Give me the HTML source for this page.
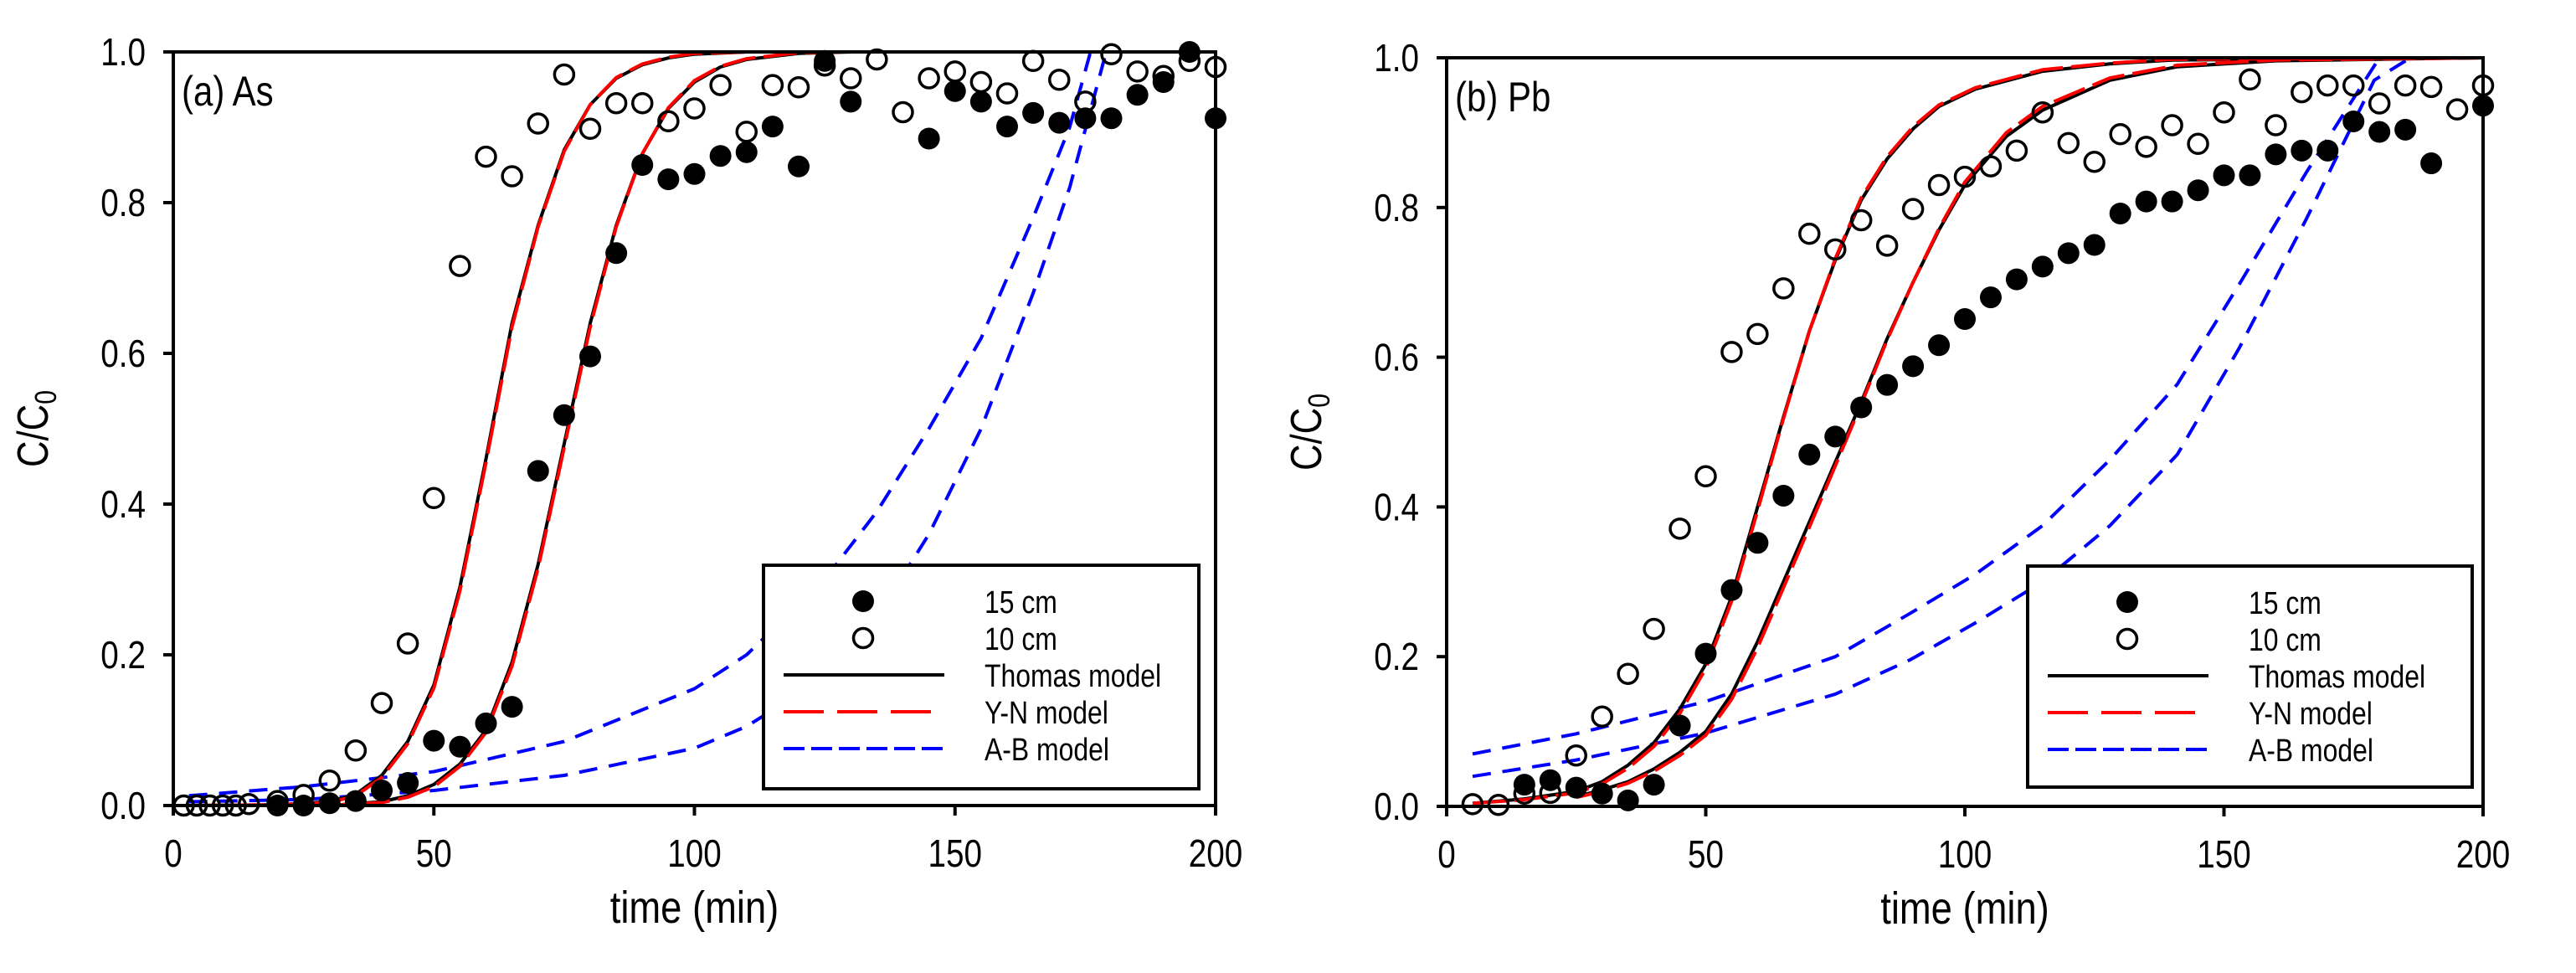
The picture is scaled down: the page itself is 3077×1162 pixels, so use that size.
<!DOCTYPE html>
<html><head><meta charset="utf-8"><style>
html,body{margin:0;padding:0;background:#fff;}
svg{display:block;}
text{font-family:"Liberation Sans Narrow","Liberation Sans",sans-serif;fill:#000;}
</style></head><body>
<svg id="fig" width="3077" height="1162" viewBox="0 0 3077 1162" xmlns="http://www.w3.org/2000/svg"></svg>
<script>
// ---------- data: panel (a) As ----------
const xTicks = [0, 50, 100, 150, 200];
const yTicks = [0, 0.2, 0.4, 0.6, 0.8, 1.0];
const yTickLabels = ["0.0", "0.2", "0.4", "0.6", "0.8", "1.0"];
const legendLabels = ["15 cm", "10 cm", "Thomas model", "Y-N model", "A-B model"];

const aFilledT = [20,25,30,35,40,45,50,55,60,65,70,75,80,85,90,95,100,105,110,115,120,125,130,145,150,155,160,165,170,175,180,185,190,195,200];
const aFilledC = [0,0.0,0.003,0.006,0.02,0.03,0.086,0.078,0.109,0.131,0.444,0.518,0.596,0.733,0.85,0.831,0.838,0.862,0.867,0.901,0.848,0.988,0.934,0.885,0.948,0.934,0.901,0.919,0.906,0.912,0.912,0.943,0.96,1.0,0.912];
const aOpenT = [2,4.5,7,9.5,12,14.5,20,25,30,35,40,45,50,55,60,65,70,75,80,85,90,95,100,105,110,115,120,125,130,135,140,145,150,155,160,165,170,175,180,185,190,195,200];
const aOpenC = [0,0,0,0,0,0.002,0.006,0.014,0.033,0.073,0.136,0.215,0.408,0.716,0.861,0.835,0.905,0.97,0.898,0.932,0.932,0.908,0.925,0.956,0.894,0.956,0.953,0.982,0.965,0.99,0.92,0.965,0.974,0.96,0.945,0.988,0.963,0.934,0.997,0.974,0.968,0.988,0.98];
const aThomas1T = [3,20,30,35,40,45,50,55,60,65,70,75,80,85,90,95,100,110,120,200];
const aThomas1C = [0,0.001,0.005,0.015,0.04,0.085,0.16,0.29,0.46,0.64,0.77,0.87,0.93,0.965,0.983,0.992,0.997,1,1,1];
const aThomas2T = [3,30,40,45,50,55,60,65,70,75,80,85,90,95,100,105,110,120,130,200];
const aThomas2C = [0,0,0.005,0.013,0.028,0.055,0.1,0.19,0.32,0.48,0.64,0.77,0.865,0.925,0.96,0.98,0.99,0.998,1,1];
const aYN1C = [0,0.001,0.004,0.013,0.037,0.082,0.156,0.285,0.455,0.635,0.768,0.868,0.93,0.966,0.984,0.993,0.998,1,1,1];
const aYN2C = [0,0,0.004,0.011,0.025,0.052,0.097,0.185,0.315,0.475,0.635,0.768,0.865,0.926,0.962,0.981,0.991,0.999,1,1];
const aAB1T = [3,25,50,75,100,110,125,135,145,155,165,172,176];
const aAB1C = [0.013,0.025,0.045,0.085,0.155,0.2,0.3,0.39,0.5,0.62,0.78,0.9,1.0];
const aAB2T = [3,25,50,75,100,110,125,135,145,155,165,172,179];
const aAB2C = [0.005,0.008,0.02,0.04,0.076,0.105,0.17,0.25,0.36,0.5,0.68,0.82,1.0];

// ---------- data: panel (b) Pb ----------
const bFilledT = [15,20,25,30,35,40,45,50,55,60,65,70,75,80,85,90,95,100,105,110,115,120,125,130,135,140,145,150,155,160,165,170,175,180,185,190,200];
const bFilledC = [0.029,0.035,0.025,0.017,0.008,0.029,0.108,0.204,0.289,0.352,0.415,0.47,0.494,0.533,0.563,0.588,0.616,0.651,0.68,0.704,0.721,0.739,0.75,0.792,0.808,0.808,0.823,0.843,0.843,0.871,0.876,0.876,0.915,0.901,0.904,0.859,0.936];
const bOpenT = [5,10,15,20,25,30,35,40,45,50,55,60,65,70,75,80,85,90,95,100,105,110,115,120,125,130,135,140,145,150,155,160,165,170,175,180,185,190,195,200];
const bOpenC = [0.003,0.002,0.017,0.018,0.068,0.12,0.177,0.237,0.371,0.441,0.607,0.631,0.692,0.765,0.744,0.783,0.749,0.798,0.83,0.841,0.855,0.876,0.927,0.886,0.861,0.898,0.881,0.91,0.885,0.927,0.971,0.91,0.954,0.963,0.963,0.939,0.963,0.961,0.931,0.963];
const bThomas1T = [5,15,25,30,35,40,45,50,55,60,65,70,75,80,85,90,95,102,115,128,140,200];
const bThomas1C = [0.004,0.01,0.02,0.033,0.055,0.085,0.13,0.19,0.28,0.4,0.52,0.635,0.73,0.81,0.865,0.905,0.935,0.958,0.982,0.992,0.997,1];
const bThomas2T = [25,30,35,40,45,50,55,60,65,70,75,80,85,90,95,100,108,115,128,141,160,200];
const bThomas2C = [0.013,0.022,0.033,0.05,0.072,0.1,0.15,0.22,0.3,0.38,0.46,0.54,0.625,0.7,0.77,0.83,0.895,0.93,0.97,0.988,0.996,1];
const bYN1C = [0.004,0.009,0.018,0.03,0.051,0.08,0.124,0.184,0.274,0.395,0.518,0.635,0.732,0.813,0.868,0.908,0.937,0.96,0.984,0.993,0.998,1];
const bYN2C = [0.012,0.02,0.031,0.047,0.068,0.095,0.143,0.212,0.292,0.373,0.455,0.537,0.623,0.7,0.772,0.834,0.9,0.935,0.973,0.99,0.997,1];
const bAB1T = [5,25,50,75,89.5,102,115,128,141,153,166,180];
const bAB1C = [0.07,0.097,0.14,0.2,0.258,0.31,0.375,0.463,0.564,0.698,0.848,1.0];
const bAB2T = [5,25,50,75,89.5,102,115,128,141,153,166,179,186];
const bAB2C = [0.04,0.062,0.098,0.15,0.196,0.245,0.3,0.375,0.47,0.613,0.786,0.97,1.0];

// ---------- drawing ----------
const NS = "http://www.w3.org/2000/svg";
const svg = document.getElementById("fig");
const SX = 0.84;
function el(tag, attrs, parent) {
  const e = document.createElementNS(NS, tag);
  for (const k in attrs) e.setAttribute(k, attrs[k]);
  (parent || svg).appendChild(e);
  return e;
}
function txt(x, y, size, anchor, parent, rot) {
  const tr = "translate(" + x + " " + y + ")" + (rot ? " rotate(-90)" : "") + " scale(" + SX + " 1)";
  return el("text", {x: 0, y: 0, "font-size": size, "text-anchor": anchor, transform: tr}, parent);
}

function panel(cfg) {
  const g = el("g", {});
  
  
  const X = t => cfg.x0 + (t / 200) * (cfg.x1 - cfg.x0);
  const Y = v => cfg.y1 - v * (cfg.y1 - cfg.y0);
  const clipId = cfg.name + "-clip";
  const defs = el("defs", {}, g);
  const cp = el("clipPath", {id: clipId}, defs);
  el("rect", {x: cfg.x0, y: cfg.y0 - 3, width: cfg.x1 - cfg.x0, height: cfg.y1 - cfg.y0 + 3}, cp);

  function curve(ts, cs, color, dash, nm) {
    const d = ts.map((t, i) => (i ? "L" : "M") + X(t).toFixed(1) + "," + Y(cs[i]).toFixed(1)).join(" ");
    const p = el("path", {d: d, fill: "none", stroke: color, "stroke-width": 4, "stroke-dasharray": dash || "none", "clip-path": "url(#" + clipId + ")", "stroke-linejoin": "round"}, g);
    
    
  }
  curve(cfg.ab1T, cfg.ab1C, "#0000ff", "22,14", "ab-model-10cm");
  curve(cfg.ab2T, cfg.ab2C, "#0000ff", "22,14", "ab-model-15cm");
  curve(cfg.th1T, cfg.th1C, "#000", null, "thomas-model-10cm");
  curve(cfg.th2T, cfg.th2C, "#000", null, "thomas-model-15cm");
  curve(cfg.th1T, cfg.yn1C, "#ff0000", "40,10", "yn-model-10cm");
  curve(cfg.th2T, cfg.yn2C, "#ff0000", "40,10", "yn-model-15cm");

  cfg.openT.forEach((t, i) => {
    const c = el("circle", {cx: X(t), cy: Y(cfg.openC[i]), r: 11.5, fill: "none", stroke: "#000", "stroke-width": 3.5}, g);
    
    
  });
  cfg.filledT.forEach((t, i) => {
    const c = el("circle", {cx: X(t), cy: Y(cfg.filledC[i]), r: 13, fill: "#000"}, g);
    
    
  });

  const fr = el("rect", {x: cfg.x0, y: cfg.y0, width: cfg.x1 - cfg.x0, height: cfg.y1 - cfg.y0, fill: "none", stroke: "#000", "stroke-width": 4}, g);
  
  

  xTicks.forEach(t => {
    el("line", {x1: X(t), x2: X(t), y1: cfg.y1, y2: cfg.y1 + 12, stroke: "#000", "stroke-width": 4}, g);
    const tx = txt(X(t), cfg.y1 + 73, 46, "middle", g);
    tx.textContent = t;
    
    
  });
  yTicks.forEach((v, i) => {
    el("line", {x1: cfg.x0 - 12, x2: cfg.x0, y1: Y(v), y2: Y(v), stroke: "#000", "stroke-width": 4}, g);
    const tx = txt(cfg.x0 - 33, Y(v) + 16, 46, "end", g);
    tx.textContent = yTickLabels[i];
    
    
  });

  const xt = txt((cfg.x0 + cfg.x1) / 2, cfg.y1 + 140, 54, "middle", g);
  xt.textContent = "time (min)";
  
  

  const yc = (cfg.y0 + cfg.y1) / 2;
  const yt = txt(cfg.x0 - 150, yc, 52, "middle", g, true);
  
  
  const s1 = el("tspan", {}, yt); s1.textContent = "C/C";
  const s2 = el("tspan", {"font-size": 36, dy: 10}, yt); s2.textContent = "0";

  const pl = txt(cfg.x0 + 10, cfg.y0 + 64, 50, "start", g);
  pl.textContent = cfg.label;
  
  

  const L = cfg.leg;
  const lg = el("g", {}, g);
  
  
  el("rect", {x: L.x, y: L.y, width: L.w, height: L.h, fill: "#fff", stroke: "#000", "stroke-width": 4}, lg);
  const rows = [43, 87, 131, 175, 219];
  const mx = L.x + 119, lx1 = L.x + 24, lx2 = L.x + 216, tx0 = L.x + 264;
  el("circle", {cx: mx, cy: L.y + rows[0], r: 13, fill: "#000"}, lg);
  el("circle", {cx: mx, cy: L.y + rows[1], r: 11.5, fill: "none", stroke: "#000", "stroke-width": 3.5}, lg);
  el("line", {x1: lx1, x2: lx2, y1: L.y + rows[2], y2: L.y + rows[2], stroke: "#000", "stroke-width": 4}, lg);
  el("line", {x1: lx1, x2: lx2, y1: L.y + rows[3], y2: L.y + rows[3], stroke: "#ff0000", "stroke-width": 4, "stroke-dasharray": "48,16"}, lg);
  el("line", {x1: lx1, x2: lx2, y1: L.y + rows[4], y2: L.y + rows[4], stroke: "#0000ff", "stroke-width": 4, "stroke-dasharray": "25,8"}, lg);
  legendLabels.forEach((s, i) => {
    const t = txt(tx0, L.y + rows[i] + 14, 38, "start", lg);
    t.textContent = s;
    
    
  });
}

panel({name: "panel-a-as", label: "(a) As", x0: 207, x1: 1452, y0: 62, y1: 962,
  leg: {x: 912, y: 675, w: 520, h: 267},
  filledT: aFilledT, filledC: aFilledC, openT: aOpenT, openC: aOpenC,
  th1T: aThomas1T, th1C: aThomas1C, th2T: aThomas2T, th2C: aThomas2C, yn1C: aYN1C, yn2C: aYN2C,
  ab1T: aAB1T, ab1C: aAB1C, ab2T: aAB2T, ab2C: aAB2C});
panel({name: "panel-b-pb", label: "(b) Pb", x0: 1728, x1: 2966, y0: 69, y1: 963,
  leg: {x: 2422, y: 676, w: 531, h: 264},
  filledT: bFilledT, filledC: bFilledC, openT: bOpenT, openC: bOpenC,
  th1T: bThomas1T, th1C: bThomas1C, th2T: bThomas2T, th2C: bThomas2C, yn1C: bYN1C, yn2C: bYN2C,
  ab1T: bAB1T, ab1C: bAB1C, ab2T: bAB2T, ab2C: bAB2C});
</script>
</body></html>
